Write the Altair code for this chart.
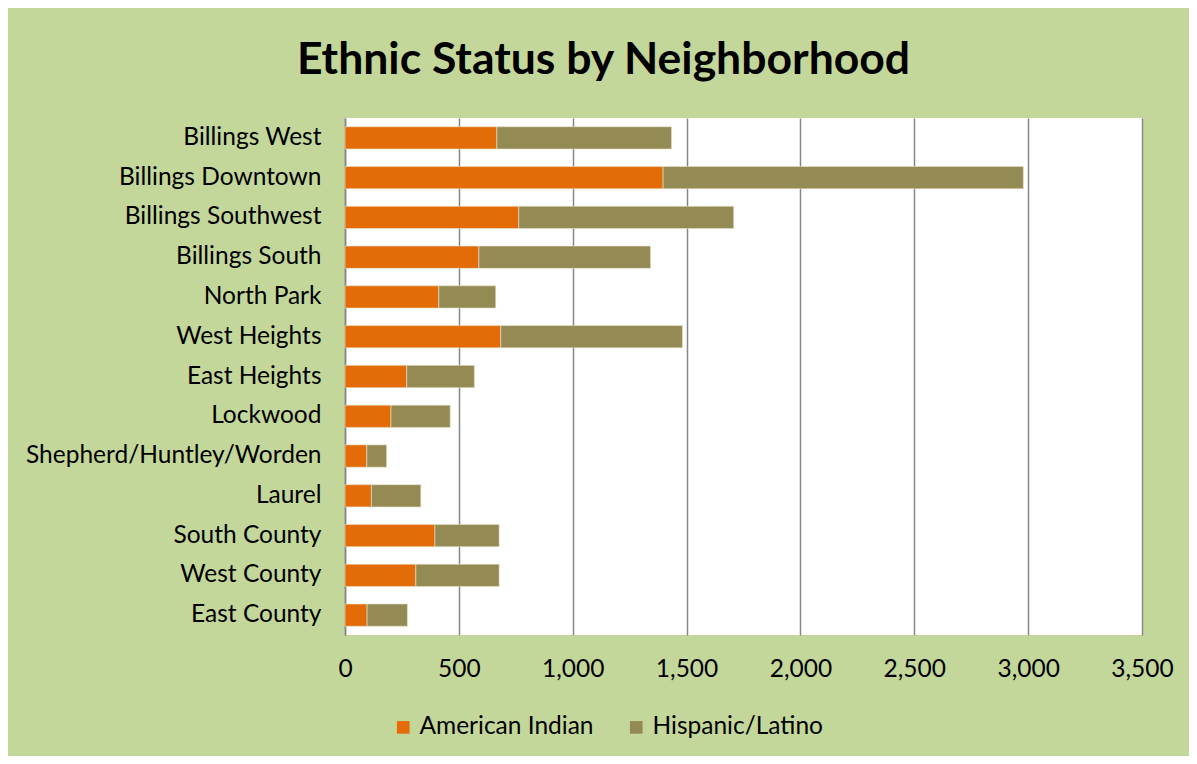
import altair as alt
import pandas as pd

neighborhoods = [
    "Billings West", "Billings Downtown", "Billings Southwest", "Billings South",
    "North Park", "West Heights", "East Heights", "Lockwood",
    "Shepherd/Huntley/Worden", "Laurel", "South County", "West County", "East County",
]
american_indian = [667, 1397, 763, 588, 412, 684, 271, 202, 96, 116, 395, 311, 97]
hispanic_latino = [767, 1582, 944, 754, 250, 798, 297, 260, 87, 217, 282, 366, 177]
series = ["American Indian", "Hispanic/Latino"]
colors = ["#E36C09", "#948A54"]

rows = []
for n, a, h in zip(neighborhoods, american_indian, hispanic_latino):
    rows.append({"Neighborhood": n, "Group": series[0], "Value": a, "ord": 0})
    rows.append({"Neighborhood": n, "Group": series[1], "Value": h, "ord": 1})
df = pd.DataFrame(rows)

FONT = "Lato"
FS = 24.5

chart = alt.Chart(df).mark_bar(stroke="#E8E4CC", strokeWidth=0.6).encode(
    y=alt.Y("Neighborhood:N", sort=neighborhoods, title=None,
            scale=alt.Scale(paddingInner=0.44, paddingOuter=0.22),
            axis=alt.Axis(ticks=False, domain=True, domainColor="#868686", domainWidth=1.5,
                          labelFont=FONT, labelFontSize=FS, labelColor="#000000",
                          labelPadding=24, labelLimit=400)),
    x=alt.X("Value:Q", stack="zero", title=None,
            scale=alt.Scale(domain=[0, 3500], nice=False),
            axis=alt.Axis(values=[0, 500, 1000, 1500, 2000, 2500, 3000, 3500],
                          format=",d", ticks=False, domain=False, grid=True,
                          gridColor="#868686", gridWidth=1.5,
                          labelFont=FONT, labelFontSize=FS, labelColor="#000000",
                          labelPadding=22, labelFlush=False)),
    color=alt.Color("Group:N", scale=alt.Scale(domain=series, range=colors),
                    legend=alt.Legend(title=None, orient="none", direction="horizontal",
                                      legendX=46, legendY=597,
                                      symbolType="square", symbolSize=160,
                                      symbolStrokeWidth=0, labelLimit=400,
                                      labelFont=FONT, labelFontSize=FS, labelColor="#000000",
                                      columnPadding=30, labelOffset=4)),
    order=alt.Order("ord:Q"),
).properties(
    width=797,
    height=517,
    autosize=alt.AutoSizeParams(type="none"),
    padding={"left": 337, "top": 110, "right": 47, "bottom": 121},
    background="#C4D79B",
    title=alt.TitleParams("Ethnic Status by Neighborhood", font=FONT, fontSize=44.5,
                          fontWeight="bold", color="#000000", anchor="middle",
                          dx=-140, offset=35),
).configure_view(fill="#FFFFFF", stroke=None)

chart.save("out.html", embed_options={"renderer": "svg", "actions": False})
